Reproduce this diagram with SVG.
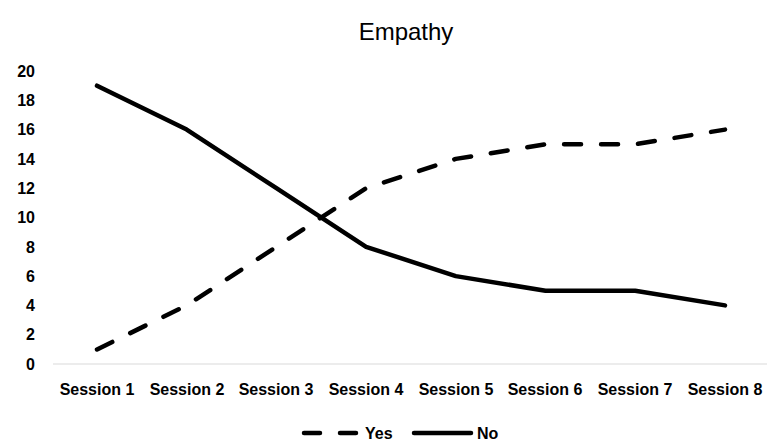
<svg xmlns="http://www.w3.org/2000/svg" width="767" height="441" viewBox="0 0 767 441">
<style>
.title{font-family:"Liberation Sans",Arial,sans-serif;font-size:24px;fill:#000;text-anchor:middle}
.ylab{font-family:"Liberation Sans",Arial,sans-serif;font-size:16px;font-weight:bold;fill:#000;text-anchor:end}
.xlab{font-family:"Liberation Sans",Arial,sans-serif;font-size:16px;font-weight:bold;fill:#000;text-anchor:middle}
.leg{font-family:"Liberation Sans",Arial,sans-serif;font-size:16px;font-weight:bold;fill:#000}
.yes{fill:none;stroke:#000;stroke-width:4.5;stroke-linecap:round;stroke-linejoin:round;stroke-dasharray:17 20}
.no{fill:none;stroke:#000;stroke-width:4.5;stroke-linecap:round;stroke-linejoin:round}
</style>
<rect width="767" height="441" fill="#fff"/>
<text class="title" x="406" y="40">Empathy</text>
<g id="y-axis">
<text class="ylab" x="35" y="77">20</text>
<text class="ylab" x="35" y="106">18</text>
<text class="ylab" x="35" y="135">16</text>
<text class="ylab" x="35" y="165">14</text>
<text class="ylab" x="35" y="194">12</text>
<text class="ylab" x="35" y="223">10</text>
<text class="ylab" x="35" y="253">8</text>
<text class="ylab" x="35" y="282">6</text>
<text class="ylab" x="35" y="311">4</text>
<text class="ylab" x="35" y="340">2</text>
<text class="ylab" x="35" y="370">0</text>
</g>
<g id="x-axis">
<line x1="53" y1="364" x2="767" y2="364" stroke="#d9d9d9" stroke-width="1"/>
<text class="xlab" x="97" y="395">Session 1</text>
<text class="xlab" x="187" y="395">Session 2</text>
<text class="xlab" x="276" y="395">Session 3</text>
<text class="xlab" x="366" y="395">Session 4</text>
<text class="xlab" x="456" y="395">Session 5</text>
<text class="xlab" x="545" y="395">Session 6</text>
<text class="xlab" x="635" y="395">Session 7</text>
<text class="xlab" x="725" y="395">Session 8</text>
</g>
<g id="connectors">
<polyline id="series-yes" class="yes" points="97,349.4 186.7,305.4 276.4,246.8 366.1,188.2 455.8,158.9 545.5,144.3 635.2,144.3 725,129.6"/>
<polyline id="series-no" class="no" points="97,85.7 186.7,129.6 276.4,188.2 366.1,246.8 455.8,276.1 545.5,290.8 635.2,290.8 725,305.4"/>
</g>
<g id="legend">
<line class="yes" x1="304" y1="433" x2="356" y2="433" style="stroke-dasharray:16 20"/>
<text class="leg" x="365" y="439">Yes</text>
<line class="no" x1="414" y1="433" x2="471" y2="433"/>
<text class="leg" x="477" y="439">No</text>
</g>
</svg>
